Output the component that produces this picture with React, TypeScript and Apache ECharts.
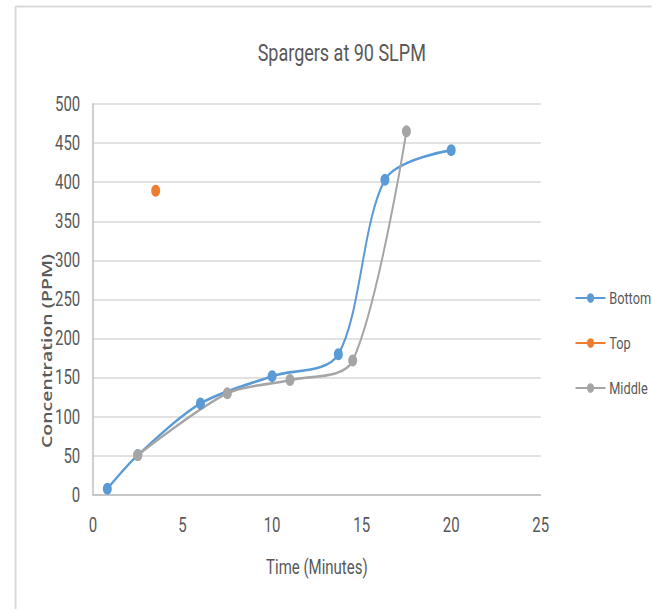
import React, { useEffect, useRef } from "react";
import * as echarts from "echarts";

// Sparger concentration readings (time in minutes, concentration in PPM)
const bottomTime = [0.8, 2.5, 6, 10, 13.7, 16.3, 20];
const bottomPpm = [8, 51, 117, 152, 180, 403, 441];

const topTime = [3.5];
const topPpm = [389];

const middleTime = [2.5, 7.5, 11, 14.5, 17.5];
const middlePpm = [51, 130, 147, 172, 465];

const xTicks = [0, 5, 10, 15, 20, 25];
const yTicks = [0, 50, 100, 150, 200, 250, 300, 350, 400, 450, 500];

const pair = (xs: number[], ys: number[]) => xs.map((x, i) => [x, ys[i]]);

// The chart is laid out on a wider canvas and squeezed horizontally,
// which gives the narrow lettering and oval markers.
const SQUEEZE = 0.75;
const W = 652;
const H = 609;
const sx = (px: number) => px / SQUEEZE;

const FONT = "Roboto, 'Noto Sans', sans-serif";
const TEXT = "#595959";

export default function App() {
  const ref = useRef<HTMLDivElement>(null);

  useEffect(() => {
    if (!ref.current) return;
    const chart = echarts.init(ref.current, null, { renderer: "svg" });

    const lineSeries = (name: string, color: string, xs: number[], ys: number[]) => ({
      name,
      type: "line",
      data: pair(xs, ys),
      smooth: 0.3,
      symbol: "circle",
      symbolSize: 12,
      color,
      lineStyle: { color, width: 2.6 },
      itemStyle: { color },
    });

    chart.setOption({
      animation: false,
      backgroundColor: "#ffffff",
      title: {
        text: "Spargers at 90 SLPM",
        left: sx(338),
        top: 36,
        textAlign: "center",
        textStyle: { fontFamily: FONT, fontSize: 24, fontWeight: "normal", color: TEXT },
      },
      legend: {
        orient: "vertical",
        left: sx(571),
        top: 283,
        itemGap: 25,
        itemWidth: sx(30),
        itemHeight: 12,
        textStyle: { fontFamily: FONT, fontSize: 17, lineHeight: 20, color: TEXT },
        data: ["Bottom", "Top", "Middle"],
      },
      grid: { left: sx(93), right: sx(111), top: 104, bottom: 114, containLabel: false },
      xAxis: {
        type: "value",
        min: xTicks[0],
        max: xTicks[xTicks.length - 1],
        interval: 5,
        name: "Time (Minutes)",
        nameLocation: "middle",
        nameGap: 62,
        nameTextStyle: { fontFamily: FONT, fontSize: 20, color: TEXT },
        axisLine: { show: true, lineStyle: { color: "#bfbfbf", width: 1.5 } },
        axisTick: { show: false },
        axisLabel: { fontFamily: FONT, fontSize: 20, color: TEXT, margin: 20 },
        splitLine: { show: false },
      },
      yAxis: {
        type: "value",
        min: yTicks[0],
        max: yTicks[yTicks.length - 1],
        interval: 50,
        axisLine: { show: true, lineStyle: { color: "#bfbfbf", width: 2 } },
        axisTick: { show: false },
        axisLabel: { fontFamily: FONT, fontSize: 20, color: TEXT, margin: 17 },
        splitLine: { show: true, lineStyle: { color: "#d9d9d9", width: 1.5 } },
      },
      graphic: [
        { type: "line", shape: { x1: sx(15.5), y1: 6.5, x2: sx(W), y2: 6.5 }, style: { stroke: "#d9d9d9", lineWidth: 2 } },
        { type: "line", shape: { x1: sx(15.5), y1: 6.5, x2: sx(15.5), y2: H }, style: { stroke: "#d9d9d9", lineWidth: 2.6 } },
        {
          type: "text",
          x: sx(46),
          y: 351,
          rotation: Math.PI / 2,
          style: {
            text: "Concentration (PPM)",
            fontFamily: "'Open Sans', 'DejaVu Sans', sans-serif",
            fontSize: 19.5,
            fontWeight: 600,
            fill: TEXT,
            align: "center",
            verticalAlign: "middle",
          },
        },
      ],
      series: [
        lineSeries("Bottom", "#5B9BD5", bottomTime, bottomPpm),
        lineSeries("Top", "#ED7D31", topTime, topPpm),
        lineSeries("Middle", "#A5A5A5", middleTime, middlePpm),
      ],
    });

    return () => chart.dispose();
  }, []);

  return (
    <div style={{ position: "absolute", left: 0, top: 0, width: W, height: H, overflow: "hidden", background: "#fff" }}>
      <div
        ref={ref}
        style={{ width: sx(W), height: H, transform: `scaleX(${SQUEEZE})`, transformOrigin: "0 0" }}
      />
    </div>
  );
}
